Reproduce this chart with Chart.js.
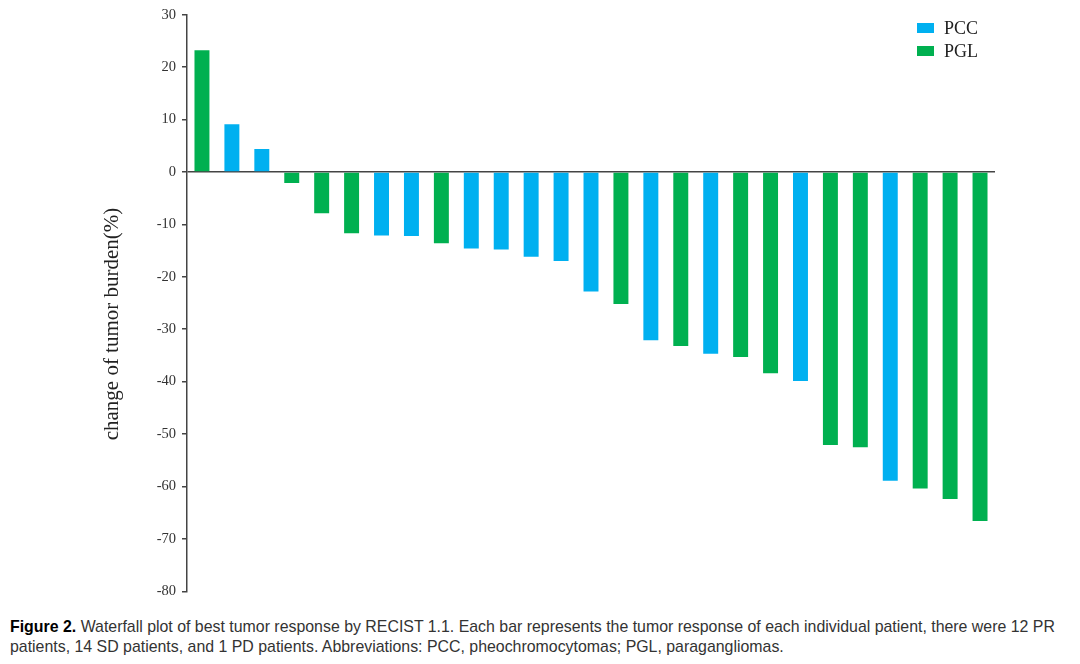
<!DOCTYPE html>
<html>
<head>
<meta charset="utf-8">
<script src="https://cdn.jsdelivr.net/npm/chart.js@4.4.1/dist/chart.umd.min.js"></script>
<style>
  body { margin: 0; background: #fff; width: 1080px; height: 664px; overflow: hidden; }
  #wrap { position: relative; width: 1080px; height: 606px; }
  #legend { position: absolute; left: 917px; top: 17px; font-family: "Liberation Serif", serif; font-size: 18px; color: #222; }
  #legend div { height: 23px; line-height: 22px; }
  #legend span.box { display: inline-block; width: 17px; height: 10px; margin-right: 10px; vertical-align: 1px; }
  #caption { position: absolute; left: 10px; top: 617px; width: 1068px; font-family: "Liberation Sans", Arial, sans-serif; font-size: 15.9px; line-height: 20px; color: #333; }
  #caption b { color: #000; }
</style>
</head>
<body>
<div id="wrap">
  <canvas id="myChart" width="1080" height="606"></canvas>
  <div id="legend"></div>
</div>
<div id="caption"><b>Figure 2.</b> Waterfall plot of best tumor response by RECIST 1.1. Each bar represents the tumor response of each individual patient, there were 12 PR patients, 14 SD patients, and 1 PD patients. Abbreviations: PCC, pheochromocytomas; PGL, paragangliomas.</div>
<script>
// one entry per patient, sorted as in the figure
const patientType = ['PGL','PCC','PCC','PGL','PGL','PGL','PCC','PCC','PGL','PCC','PCC','PCC','PCC','PCC',
                     'PGL','PCC','PGL','PCC','PGL','PGL','PCC','PGL','PGL','PCC','PGL','PGL','PGL'];
const tumorChange = [23.2, 9.1, 4.4, -2.1, -7.9, -11.7, -12.1, -12.2, -13.6, -14.6, -14.8, -16.2, -17.0, -22.8,
                     -25.2, -32.1, -33.2, -34.7, -35.3, -38.4, -39.9, -52.1, -52.5, -58.9, -60.4, -62.4, -66.6];
const yTicks = [30, 20, 10, 0, -10, -20, -30, -40, -50, -60, -70, -80];

const groups = ['PCC', 'PGL'];
const groupColors = {PCC: '#00B0F0', PGL: '#00B050'};

const labels = tumorChange.map((v, i) => 'P' + (i + 1));

const datasets = groups.map(g => ({
  label: g,
  backgroundColor: groupColors[g],
  data: tumorChange.map((v, i) => patientType[i] === g ? v : null),
}));

// simple vertical legend like the original
document.getElementById('legend').innerHTML = groups.map(g =>
  '<div><span class="box" style="background:' + groupColors[g] + '"></span>' + g + '</div>').join('');

const config = {
  type: 'bar',
  data: {labels: labels, datasets: datasets},
  options: {
    responsive: false,
    animation: false,
    grouped: false,
    barPercentage: 0.5,
    categoryPercentage: 1.0,
    layout: {padding: {left: 100, right: 85, top: 14, bottom: 13}},
    plugins: {legend: {display: false}, tooltip: {enabled: false}},
    scales: {
      x: {display: false},
      y: {
        min: -80,
        max: 30,
        afterFit: scale => { scale.width = 87; },
        afterBuildTicks: scale => { scale.ticks = yTicks.map(v => ({value: v})); },
        border: {display: true, color: '#444', width: 1.5},
        grid: {
          color: c => (c.tick && c.tick.value === 0) ? '#444' : 'rgba(0,0,0,0)',
          lineWidth: 1.5,
          tickColor: '#444',
          tickLength: 5,
          drawOnChartArea: true,
        },
        ticks: {
          color: '#333',
          padding: 6,
          font: {family: 'Liberation Serif', size: 14.5},
        },
        title: {
          display: true,
          // trailing spaces push the title a little lower, as in the original
          text: 'change of tumor burden(%)\u00a0\u00a0\u00a0\u00a0\u00a0\u00a0\u00a0\u00a0',
          color: '#222',
          font: {family: 'Liberation Serif', size: 21},
          padding: {top: 0, bottom: 0},
        },
      },
    },
  },
};

const myChart = new Chart(document.getElementById('myChart'), config);
</script>
</body>
</html>
